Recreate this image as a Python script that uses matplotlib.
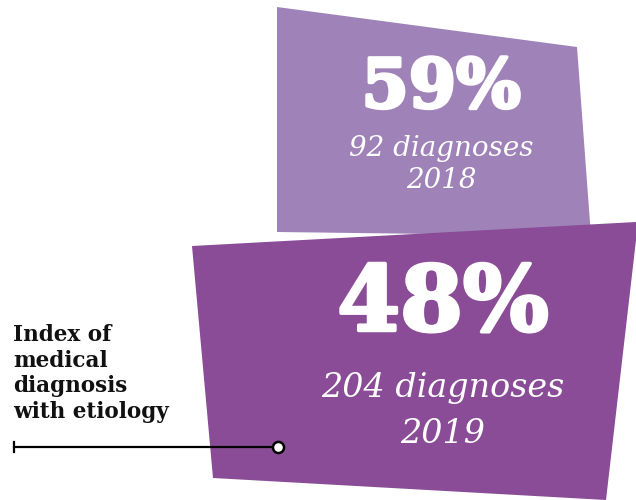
import matplotlib.pyplot as plt
import matplotlib.patheffects as pe
from matplotlib.patches import Polygon

# values
years = [2018, 2019]
shares = [59, 48]          # % of diagnoses with etiology
diagnoses = [92, 204]
label = "Index of\nmedical\ndiagnosis\nwith etiology"

colors = ["#9f82b8", "#8a4c96"]

# decorative shapes (pixel layout, y down)
shapes = [
    [(277, 7), (577, 47), (591, 236), (277, 232)],
    [(192, 246), (636, 222), (636, 240), (606, 500), (213, 478)],
]
# text anchors: (x centre, y of big number, y of count, y of year, big size, small size)
anchors = [
    (441, 89, 148, 180, 49, 20),
    (443, 306, 388, 434, 65, 24),
]

fig = plt.figure(figsize=(6.36, 5), dpi=100)
ax = fig.add_axes([0, 0, 1, 1])
ax.set_xlim(0, 636)
ax.set_ylim(500, 0)
ax.axis('off')

heavy = [pe.withStroke(linewidth=2.5, foreground='white')]

for i in range(len(years)):
    ax.add_patch(Polygon(shapes[i], closed=True, facecolor=colors[i], edgecolor='none'))
    x, y1, y2, y3, big, small = anchors[i]
    ax.text(x, y1, f"{shares[i]}%", ha='center', va='center', color='white',
            fontsize=big, fontweight='bold', family='DejaVu Serif', path_effects=heavy)
    ax.text(x, y2, f"{diagnoses[i]} diagnoses", ha='center', va='center', color='white',
            fontsize=small, style='italic', family='DejaVu Serif')
    ax.text(x, y3, str(years[i]), ha='center', va='center', color='white',
            fontsize=small, style='italic', family='DejaVu Serif')

# left label with pointer line
ax.text(13, 324, label, ha='left', va='top', fontsize=15.5, fontweight='bold',
        family='DejaVu Serif', linespacing=1.22, color='#111111')
ax.plot([14, 274], [447, 447], color='black', lw=1.6)
ax.plot([14, 14], [442, 452], color='black', lw=1.6)
ax.plot([278], [447], marker='o', ms=8, mfc='white', mec='black', mew=1.8)

fig.savefig('out.png', dpi=100)
